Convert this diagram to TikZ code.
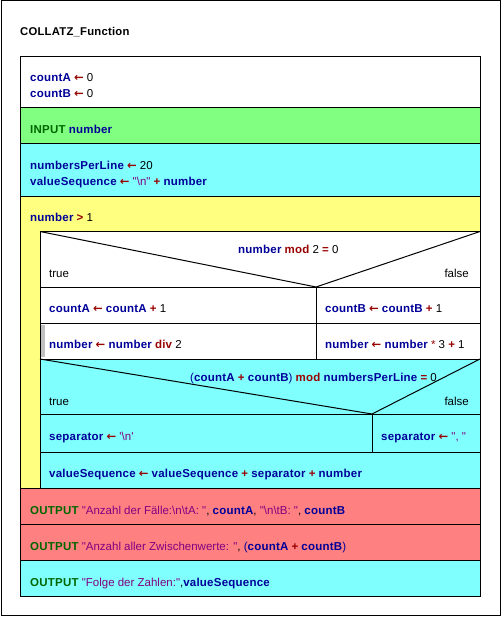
\documentclass[tikz,border=0pt]{standalone}
\usepackage{fontspec}
\newfontfamily\nsfont{Liberation Sans}[BoldFeatures={LetterSpace=2}]
\newfontfamily\nsarrfont{DejaVu Sans}
\usetikzlibrary{positioning}

\definecolor{nsvar}{HTML}{000099}
\definecolor{nsop}{HTML}{990000}
\definecolor{nskey}{HTML}{006600}
\definecolor{nsstr}{HTML}{800080}
\definecolor{nsgreen}{HTML}{80FF80}
\definecolor{nscyan}{HTML}{80FFFF}
\definecolor{nsyellow}{HTML}{FFFF80}
\definecolor{nsred}{HTML}{FF8080}
\definecolor{nsgray}{HTML}{C0C0C0}

\newcommand\nsv[1]{\textbf{\textcolor{nsvar}{#1}}}
\newcommand\nso[1]{\textbf{\textcolor{nsop}{#1}}}
\newcommand\nsk[1]{\textbf{\textcolor{nskey}{#1}}}
\newcommand\nss[1]{\textcolor{nsstr}{#1}}
\newcommand\nsgets{{\nsarrfont\bfseries\textcolor{nsop}{←}}}
\newcommand\bs{\textbackslash}

\begin{document}
\begin{tikzpicture}[
        x=1pt, y=-1pt,
        blk/.style={draw=black, line width=1pt},
        code/.style={anchor=base west, inner sep=0pt, font=\nsfont\fontsize{11.5}{14}\selectfont},
        codeR/.style={code, anchor=base east},
        title/.style={code, font=\nsfont\bfseries\fontsize{11.3}{14}\selectfont}
    ]
        \useasboundingbox (0,0) rectangle (501,617);
        \draw[line width=1pt] (1,1) rectangle (500,615.5);
        \node[title] (name) at (20,36) {COLLATZ\_Function};
        % sequence blocks
        \filldraw[blk, fill=white] (20,57) rectangle (480,108);
        \filldraw[blk, fill=nsgreen] (20,108) rectangle (480,144);
        \filldraw[blk, fill=nscyan] (20,144) rectangle (480,197);
        \filldraw[blk, fill=nsyellow] (20,197) rectangle (480,488);
        \filldraw[blk, fill=white] (40,231.5) rectangle (480,359);
        \filldraw[blk, fill=nscyan] (40,359) rectangle (480,488);
        \filldraw[blk, fill=nsred] (20,488) rectangle (480,524.5);
        \filldraw[blk, fill=nsred] (20,524.5) rectangle (480,560.5);
        \filldraw[blk, fill=nscyan] (20,560.5) rectangle (480,596);
        % first alternative
        \draw[blk] (40,231.5) -- (316,287) -- (480,231.5);
        \draw[blk] (40,287) -- (480,287);
        \draw[blk] (40,323) -- (480,323);
        \draw[blk] (316,287) -- (316,359);
        \fill[nsgray] (41,324.5) rectangle (45,357);
        % second alternative
        \draw[blk] (40,359) -- (372,414) -- (480,359);
        \draw[blk] (40,414) -- (480,414);
        \draw[blk] (40,452) -- (480,452);
        \draw[blk] (372,414) -- (372,452);
        % texts
        \node[code] (initA) at (30,82) {\nsv{countA} \nsgets{} 0};
        \node[code] (initB) at (30,98) {\nsv{countB} \nsgets{} 0};
        \node[code] (input) at (30,134) {\nsk{INPUT} \nsv{number}};
        \node[code] (perline) at (30,170) {\nsv{numbersPerLine} \nsgets{} 20};
        \node[code] (seqinit) at (30,186) {\nsv{valueSequence} \nsgets{} \nss{"\bs n"} \nso{+} \nsv{number}};
        \node[code] (loop) at (30,222) {\nsv{number} \nso{>} 1};
        \node[code] (cond1) at (238,253) {\nsv{number} \nso{mod} 2 \nso{=} 0};
        \node[code] (true1) at (49,277) {true};
        \node[codeR] (false1) at (469,277) {false};
        \node[code] (incA) at (49,312) {\nsv{countA} \nsgets{} \nsv{countA} \nso{+} 1};
        \node[code] (incB) at (325,312) {\nsv{countB} \nsgets{} \nsv{countB} \nso{+} 1};
        \node[code] (half) at (49,348) {\nsv{number} \nsgets{} \nsv{number} \nso{div} 2};
        \node[code] (triple) at (325,348) {\nsv{number} \nsgets{} \nsv{number} \textcolor{nsop}{*} 3 \nso{+} 1};
        \node[code] (cond2) at (190,381) {\textcolor{nsvar}{(}\nsv{countA} \nso{+} \nsv{countB}\textcolor{nsvar}{)} \nso{mod} \nsv{numbersPerLine} \nso{=} 0};
        \node[code] (true2) at (49,405) {true};
        \node[codeR] (false2) at (469,405) {false};
        \node[code] (sepnl) at (49,440) {\nsv{separator} \nsgets{} \nss{'\bs n'}};
        \node[code] (sepco) at (381,440) {\nsv{separator} \nsgets{} \nss{", "}};
        \node[code] (append) at (49,477) {\nsv{valueSequence} \nsgets{} \nsv{valueSequence} \nso{+} \nsv{separator} \nso{+} \nsv{number}};
        \node[code] (out1) at (30,514) {\nsk{OUTPUT} \nss{"Anzahl der Fälle:\bs n\bs tA: "}, \nsv{countA}, \nss{"\bs n\bs tB: "}, \nsv{countB}};
        \node[code] (out2) at (30,550) {\nsk{OUTPUT} \nss{"Anzahl aller Zwischenwerte: "}, \textcolor{nsvar}{(}\nsv{countA} \nso{+} \nsv{countB}\textcolor{nsvar}{)}};
        \node[code] (out3) at (30,586) {\nsk{OUTPUT} \nss{"Folge der Zahlen:"},\nsv{valueSequence}};
    \end{tikzpicture}
\end{document}
